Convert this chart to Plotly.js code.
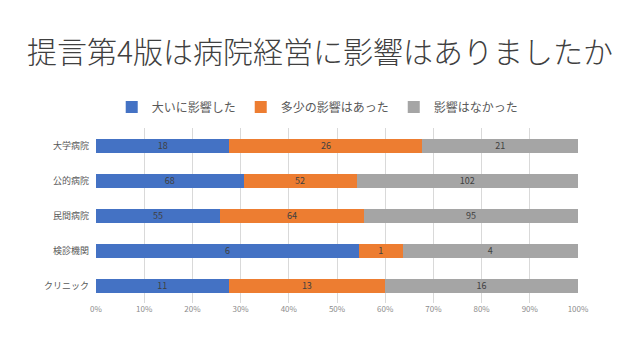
<!DOCTYPE html>
<html>
<head>
<meta charset="utf-8">
<script src="https://cdn.plot.ly/plotly-3.0.1.min.js"></script>
<style>html,body{margin:0;padding:0;background:#fff;}#chart{width:640px;height:360px;}</style>
</head>
<body>
<div id="chart"></div>
<script>
const categories = ["大学病院", "公的病院", "民間病院", "検診機関", "クリニック"];
const seriesNames = ["大いに影響した", "多少の影響はあった", "影響はなかった"];
const strong = [18, 68, 55, 6, 11];
const some = [26, 52, 64, 1, 13];
const none = [21, 102, 95, 4, 16];
const colors = ["#4472C4", "#ED7D31", "#A5A5A5"];
const tickVals = [0, 10, 20, 30, 40, 50, 60, 70, 80, 90, 100];
const tickText = ["0%", "10%", "20%", "30%", "40%", "50%", "60%", "70%", "80%", "90%", "100%"];

const FONT = "'Noto Sans CJK JP', 'Noto Sans', sans-serif";
const allSeries = [strong, some, none];
const traces = allSeries.map((vals, i) => ({
  type: "bar",
  orientation: "h",
  name: seriesNames[i],
  y: categories,
  x: vals,
  text: vals.map(String),
  textposition: "inside",
  insidetextanchor: "middle",
  textangle: 0,
  constraintext: "none",
  textfont: {family: FONT, size: 9, color: "#404040"},
  marker: {color: colors[i], line: {width: 0}},
  hoverinfo: "none"
}));

const layout = {
  width: 640, height: 360,
  margin: {l: 96, r: 62, t: 128, b: 57},
  paper_bgcolor: "#ffffff",
  plot_bgcolor: "#ffffff",
  barmode: "stack",
  barnorm: "percent",
  bargap: 0.6,
  font: {family: FONT, color: "#595959"},
  title: {
    text: "提言第4版は病院経営に影響はありましたか",
    font: {family: FONT, size: 30, color: "#404040", weight: 300},
    x: 0.5, xanchor: "center", y: 0.855, yanchor: "middle"
  },
  legend: {
    orientation: "h",
    x: 0.46, xanchor: "center",
    y: 1.12, yanchor: "middle",
    font: {family: FONT, size: 12, color: "#595959"},
    traceorder: "normal",
    itemwidth: 30
  },
  xaxis: {
    range: [0, 100],
    tickvals: tickVals,
    ticktext: tickText,
    showgrid: true,
    gridcolor: "#D9D9D9",
    gridwidth: 1,
    zeroline: false,
    showline: false,
    tickfont: {family: FONT, size: 8, color: "#8C8C8C"},
    fixedrange: true
  },
  yaxis: {
    autorange: "reversed",
    showgrid: false,
    showline: false,
    zeroline: false,
    ticks: "",
    ticklabelstandoff: 6,
    tickfont: {family: FONT, size: 9, color: "#595959"},
    fixedrange: true
  },
  showlegend: true
};

Plotly.newPlot("chart", traces, layout, {displayModeBar: false, staticPlot: true});
</script>
</body>
</html>
